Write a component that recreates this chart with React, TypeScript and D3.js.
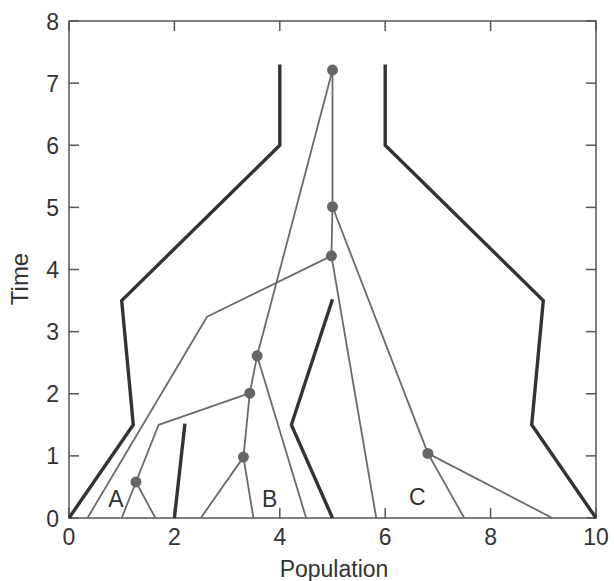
import React from "react";
import * as d3 from "d3";

// thick outer/inner boundary lines [population, time]
const leftWall: [number, number][] = [[0, 0], [1.22, 1.5], [1.0, 3.5], [4, 6], [4, 7.3]];
const rightWall: [number, number][] = [[10, 0], [8.78, 1.5], [9.0, 3.5], [6, 6], [6, 7.3]];
const wallA: [number, number][] = [[2, 0], [2.2, 1.52]];
const wallB: [number, number][] = [[5, 0], [4.22, 1.5], [5.0, 3.52]];

// gray lineage paths
const lineages: [number, number][][] = [
  [[1.0, 0], [1.27, 0.58], [1.64, 0]],
  [[1.27, 0.58], [1.7, 1.5], [3.43, 2.01]],
  [[0.35, 0], [2.62, 3.24], [4.98, 4.22]],
  [[2.5, 0], [3.31, 0.98], [3.5, 0]],
  [[3.31, 0.98], [3.43, 2.01], [3.57, 2.61], [4.5, 0]],
  [[3.57, 2.61], [5.0, 7.21]],
  [[5.83, 0], [4.98, 4.22], [5.0, 5.01], [5.0, 7.21]],
  [[5.0, 5.01], [6.81, 1.04], [7.5, 0]],
  [[6.81, 1.04], [9.17, 0]],
];

// coalescent nodes
const nodes: [number, number][] = [
  [1.27, 0.58], [3.31, 0.98], [3.43, 2.01], [3.57, 2.61],
  [4.98, 4.22], [5.0, 5.01], [5.0, 7.21], [6.81, 1.04],
];

const labels = [
  { text: "A", x: 0.89, y: 0.31 },
  { text: "B", x: 3.81, y: 0.31 },
  { text: "C", x: 6.61, y: 0.33 },
];

const xTicks = [0, 2, 4, 6, 8, 10];
const yTicks = [0, 1, 2, 3, 4, 5, 6, 7, 8];

const W = 614;
const H = 581;
const left = 69;
const right = 596;
const top = 21;
const bottom = 518;

export default function App() {
  const x = d3.scaleLinear().domain([0, 10]).range([left, right]);
  const y = d3.scaleLinear().domain([0, 8]).range([bottom, top]);
  const line = d3.line<[number, number]>().x((d) => x(d[0])).y((d) => y(d[1]));
  const font = "'Liberation Sans', Arial, sans-serif";
  const axisColor = "#555";
  const tickLen = 10;
  const fs = 23;

  return (
    <svg width={W} height={H} style={{ position: "absolute", left: 0, top: 0 }} fontFamily={font}>
      <rect x={left} y={top} width={right - left} height={bottom - top} fill="none" stroke={axisColor} strokeWidth={1.5} />

      {xTicks.map((t) => (
        <g key={"x" + t}>
          <line x1={x(t)} x2={x(t)} y1={bottom} y2={bottom - tickLen} stroke={axisColor} strokeWidth={1.5} />
          <line x1={x(t)} x2={x(t)} y1={top} y2={top + tickLen} stroke={axisColor} strokeWidth={1.5} />
          <text x={x(t)} y={545} textAnchor="middle" fontSize={fs} fill="#333">{t}</text>
        </g>
      ))}
      {yTicks.map((t) => (
        <g key={"y" + t}>
          <line x1={left} x2={left + tickLen} y1={y(t)} y2={y(t)} stroke={axisColor} strokeWidth={1.5} />
          <line x1={right} x2={right - tickLen} y1={y(t)} y2={y(t)} stroke={axisColor} strokeWidth={1.5} />
          <text x={left - 10} y={y(t) + 8.5} textAnchor="end" fontSize={fs} fill="#333">{t}</text>
        </g>
      ))}

      <text x={334} y={577} textAnchor="middle" fontSize={fs} fill="#333">Population</text>
      <text transform="translate(28, 279) rotate(-90)" textAnchor="middle" fontSize={24} fill="#333">Time</text>

      {lineages.map((l, i) => (
        <path key={"l" + i} d={line(l) ?? ""} fill="none" stroke="#6a6a6a" strokeWidth={1.8} strokeLinejoin="round" />
      ))}
      {[leftWall, rightWall, wallA, wallB].map((w, i) => (
        <path key={"w" + i} d={line(w) ?? ""} fill="none" stroke="#333" strokeWidth={3.4} strokeLinejoin="miter" />
      ))}
      {nodes.map((n, i) => (
        <circle key={"n" + i} cx={x(n[0])} cy={y(n[1])} r={5.5} fill="#666" />
      ))}
      {labels.map((l) => (
        <text key={l.text} x={x(l.x)} y={y(l.y) + 8} textAnchor="middle" fontSize={fs} fill="#333">{l.text}</text>
      ))}
    </svg>
  );
}
